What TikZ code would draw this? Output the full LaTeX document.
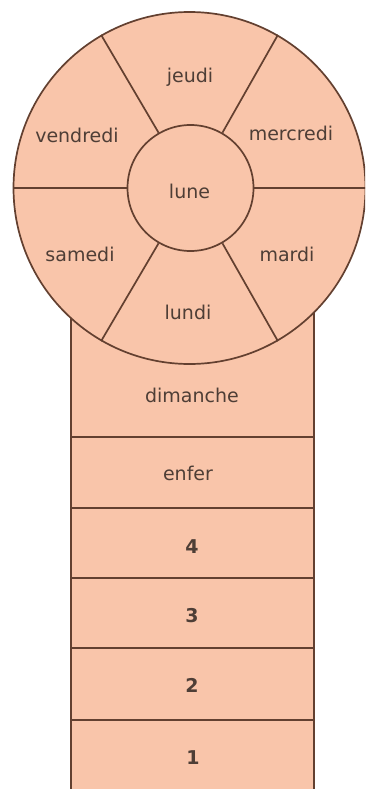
\documentclass[tikz,border=0pt]{standalone}
\usepackage{fontspec}
\setmainfont{DejaVu Sans}
\definecolor{peach}{HTML}{F9C5AA}
\definecolor{ink}{HTML}{634030}
\definecolor{txt}{HTML}{4E3E36}
\begin{document}
\begin{tikzpicture}[x=1pt,y=-1pt,line width=1.7pt,
  lab/.style={text=txt,font=\fontsize{19}{21}\selectfont,inner sep=0pt,anchor=center},
  num/.style={lab,font=\fontsize{19}{21}\selectfont\bfseries},
  shape line/.style={draw=ink,fill=peach}]
\useasboundingbox (0,0) rectangle (365,789);
\clip (0,0) rectangle (365,789);
\fill[white] (0,0) rectangle (365,789);
% board (rectangle)
\node[shape line,rectangle,minimum width=243pt,minimum height=492pt,inner sep=0pt] (board) at (192.5,546) {};
% row separators
\foreach \y [count=\i] in {437,508,578,648,720} {
  \coordinate (L\i) at (71,\y);
  \coordinate (R\i) at (314,\y);
  \draw[ink] (L\i) -- (R\i);
}
% wheel
\node[shape line,circle,minimum size=352pt,inner sep=0pt] (wheel) at (189.5,188) {};
\node[shape line,circle,minimum size=126pt,inner sep=0pt] (lune) at (190.5,188) {};
\foreach \a in {0,60,120,180,240,300}
  \draw[ink] (lune.\a) -- (wheel.\a);
% labels
\node[lab] (tlune) at (189.5,191) {lune};
\node[lab] (jeudi) at (190,77) {jeudi};
\node[lab] (mercredi) at (291,133) {mercredi};
\node[lab] (vendredi) at (77,135) {vendredi};
\node[lab] (samedi) at (80,254) {samedi};
\node[lab] (mardi) at (287,254) {mardi};
\node[lab] (lundi) at (188,312) {lundi};
\node[lab] (dimanche) at (192,395) {dimanche};
\node[lab] (enfer) at (188,473) {enfer};
\node[num] (n4) at (192,547) {4};
\node[num] (n3) at (192,616) {3};
\node[num] (n2) at (192,685) {2};
\node[num] (n1) at (193,758) {1};
\end{tikzpicture}
\end{document}
